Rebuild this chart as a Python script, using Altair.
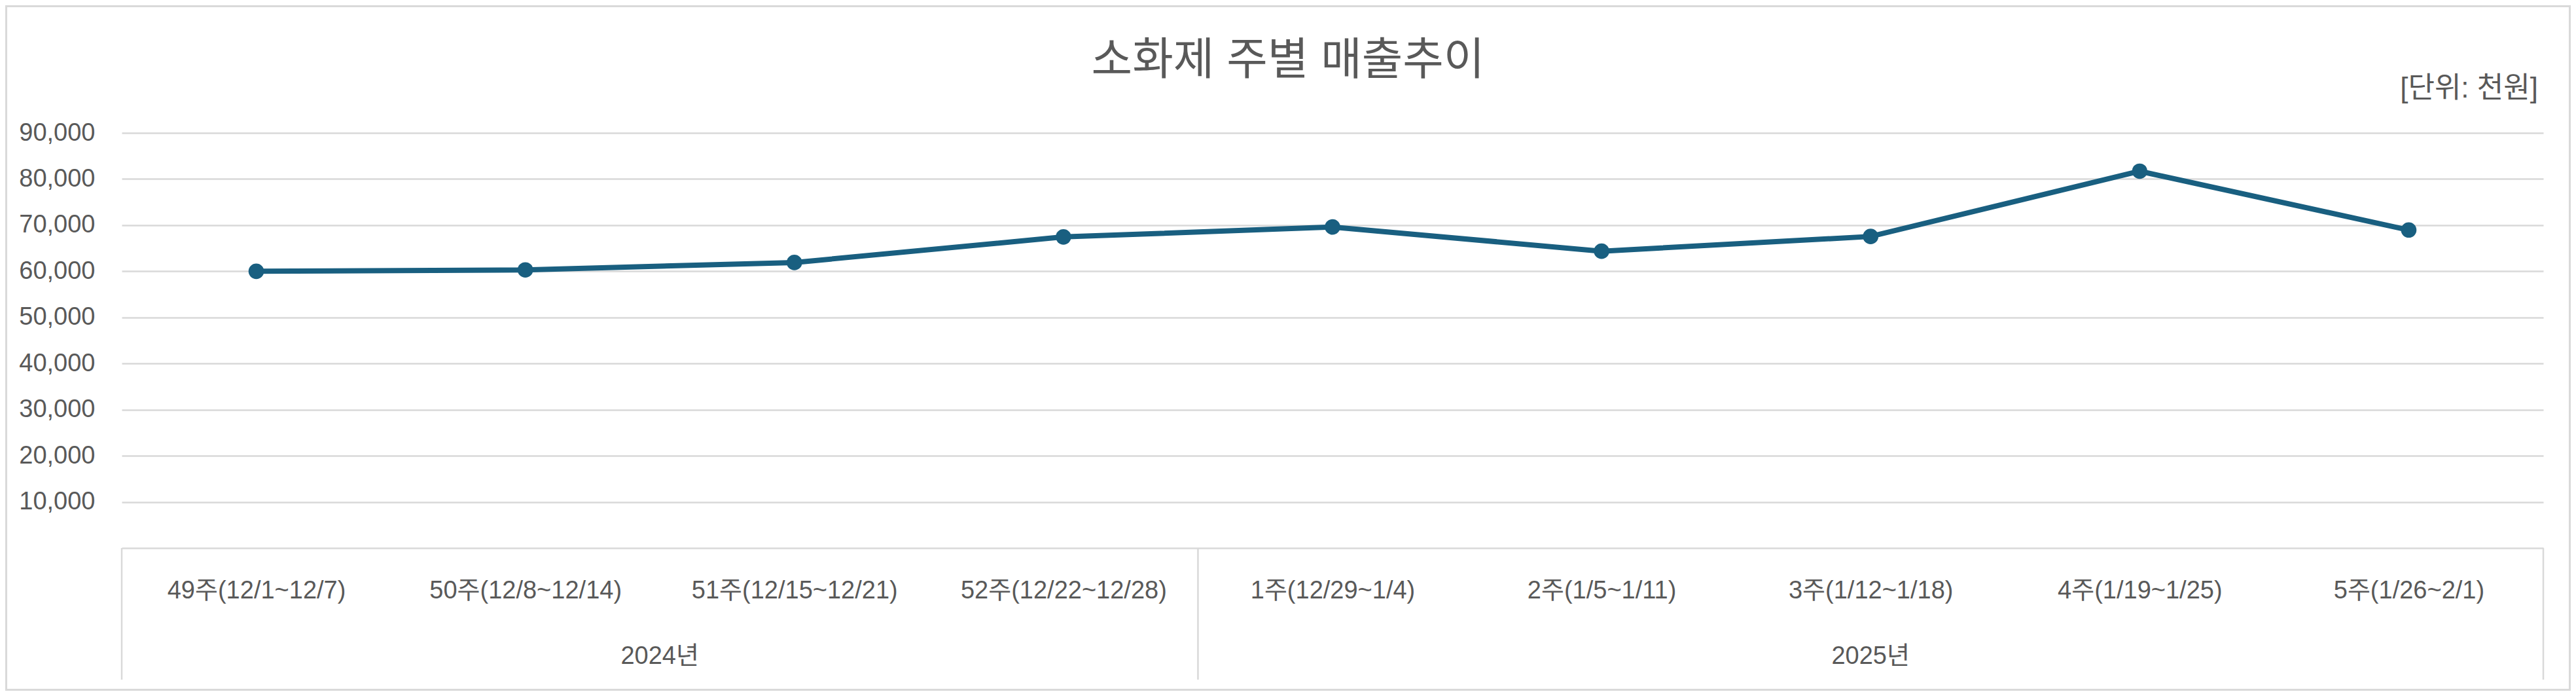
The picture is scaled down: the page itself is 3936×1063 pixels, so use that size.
import altair as alt
import pandas as pd

TITLE = "소화제 주별 매출추이"
UNIT_TEXT = "[단위: 천원]"
WEEKS = ["49주(12/1~12/7)", "50주(12/8~12/14)", "51주(12/15~12/21)", "52주(12/22~12/28)",
         "1주(12/29~1/4)", "2주(1/5~1/11)", "3주(1/12~1/18)", "4주(1/19~1/25)", "5주(1/26~2/1)"]
SALES = [60000, 60300, 61900, 67450, 69600, 64350, 67550, 81700, 68950]
YEARS = ["2024년", "2025년"]
YEAR_WEEK_COUNTS = [4, 5]
Y_TICKS = [10000, 20000, 30000, 40000, 50000, 60000, 70000, 80000, 90000]

FONT = "Liberation Sans, Noto Sans CJK KR, sans-serif"
TXT = "#595959"
GRID = "#d9d9d9"
LINE = "#195f80"

W, H = 3700, 634

df = pd.DataFrame({"week": WEEKS, "sales": SALES})

# group boundaries / centers from counts
bounds = [0]
for c in YEAR_WEEK_COUNTS:
    bounds.append(bounds[-1] + c)
year_df = pd.DataFrame({
    "year": YEARS,
    "center": [(bounds[i] + bounds[i + 1]) / 2 for i in range(len(YEARS))],
})
sep_df = pd.DataFrame({"pos": bounds})
n = len(WEEKS)

xscale = alt.Scale(type="point", padding=0.5, domain=WEEKS)
yscale = alt.Scale(domain=[0, 90000], nice=False)

xaxis = alt.Axis(title=None, labelAngle=0, labelFontSize=38, labelColor=TXT, labelFont=FONT,
                 ticks=False, tickSize=0, labelPadding=65, labelBaseline="middle", labelLimit=0,
                 domainColor=GRID, domainWidth=2.5, grid=False)
yaxis = alt.Axis(title=None, values=Y_TICKS, format=",d", labelFontSize=38, labelColor=TXT,
                 labelFont=FONT, ticks=False, tickSize=0, labelPadding=41, domain=False,
                 gridColor=GRID, gridWidth=2.5)

line = alt.Chart(df).mark_line(
    color=LINE, strokeWidth=8,
    point=alt.OverlayMarkDef(filled=True, size=560, color=LINE, opacity=1),
).encode(
    x=alt.X("week:N", scale=xscale, axis=xaxis, sort=WEEKS),
    y=alt.Y("sales:Q", scale=yscale, axis=yaxis),
)

gscale = alt.Scale(domain=[0, n], nice=False, zero=False)
seps = alt.Chart(sep_df).mark_rule(color=GRID, strokeWidth=2.5).encode(
    x=alt.X("pos:Q", scale=gscale, axis=None),
    y=alt.value(H),
    y2=alt.value(H + 201),
)
years = alt.Chart(year_df).mark_text(fontSize=38, color=TXT, font=FONT, baseline="middle",
                                     align="center").encode(
    x=alt.X("center:Q", scale=gscale, axis=None),
    y=alt.value(H + 166),
    text="year:N",
)
title = alt.Chart(pd.DataFrame({"t": [TITLE]})).mark_text(
    fontSize=68, color=TXT, font=FONT, align="center", baseline="middle").encode(
    x=alt.value(1782), y=alt.value(-109), text="t:N")
unit = alt.Chart(pd.DataFrame({"t": [UNIT_TEXT]})).mark_text(
    fontSize=44, color=TXT, font=FONT, align="right", baseline="middle").encode(
    x=alt.value(W - 8), y=alt.value(-67), text="t:N")
border = alt.Chart(pd.DataFrame({"b": [0]})).mark_rect(
    fill=None, stroke=GRID, strokeWidth=3, clip=False).encode(
    x=alt.value(-176.5), x2=alt.value(W + 40.5), y=alt.value(-193.5), y2=alt.value(H + 216.5))

chart = alt.layer(line, seps, years, title, unit, border).resolve_scale(x="independent").properties(
    width=W, height=H,
    autosize=alt.AutoSizeParams(type="none"),
    padding={"left": 178, "top": 195, "right": 42, "bottom": 218},
    background="white",
).configure_view(stroke=None)

chart.save("out.html", embed_options={"renderer": "svg", "actions": False})
